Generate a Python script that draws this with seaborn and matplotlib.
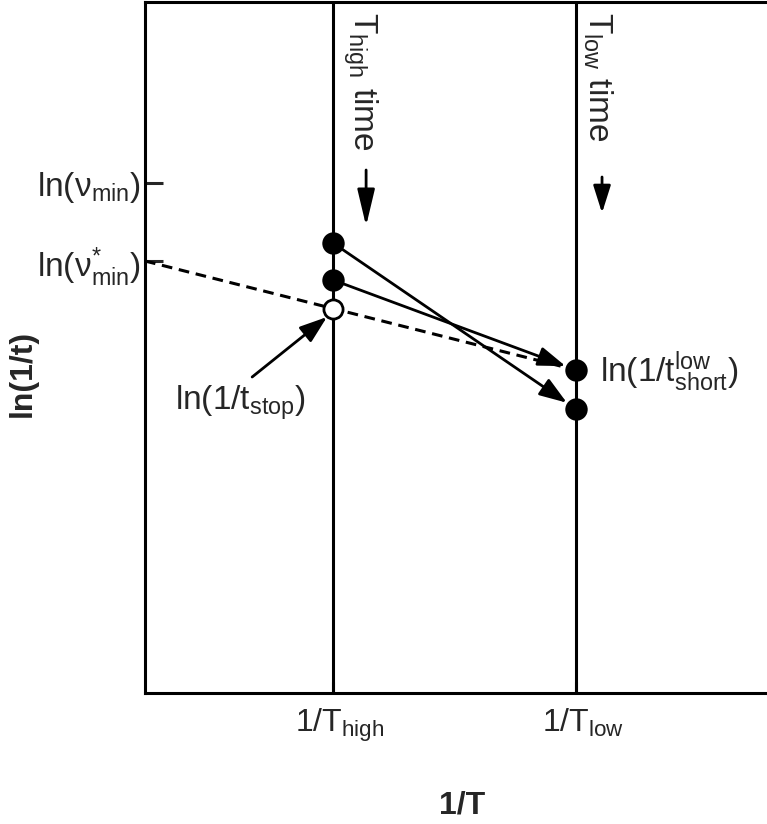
import matplotlib
matplotlib.use("Agg")
import matplotlib.pyplot as plt
import matplotlib.transforms as mtransforms
import seaborn as sns
import pandas as pd

# ---- data (schematic units) ----
x_ticks = [1.0, 2.0]
x_ticklabels = [r"$\mathregular{1/T_{high}}$", r"$\mathregular{1/T_{low}}$"]
y_ticks = [5.10, 4.32]
y_ticklabels = [r"$\mathregular{ln(ν_{min})}$", r"$\mathregular{ln(ν^{*}_{min})}$"]

high_x = [1.0, 1.0]
high_y = [4.50, 4.13]
low_x = [2.0, 2.0]
low_y = [2.84, 3.23]          # arrow targets: high[0]->low[0], high[1]->low[1]
stop_x = [1.0]
stop_y = [3.84]
dash_x = [0.226, 2.0]
dash_y = [4.32, 3.23]

sns.set_style("white")
plt.rcParams["font.family"] = ["Liberation Sans", "DejaVu Sans"]
plt.rcParams["mathtext.fontset"] = "custom"
plt.rcParams["mathtext.rm"] = "Liberation Sans"
plt.rcParams["mathtext.it"] = "Liberation Sans:italic"
plt.rcParams["mathtext.bf"] = "Liberation Sans:bold"

W, H = 767, 824
fig = plt.figure(figsize=(W / 100, H / 100), dpi=100)
ax = fig.add_axes([145 / W, (H - 693) / H, 1 - 145 / W, (693 - 2) / H])
ax.set_xlim(0.226, 2.786)
ax.set_ylim(0, 6.91)

lw = 2.2
for s in ["left", "bottom", "top"]:
    ax.spines[s].set_linewidth(lw)
    ax.spines[s].set_color("black")
ax.spines["right"].set_visible(False)

# vertical temperature lines
for xv in x_ticks:
    ax.axvline(xv, color="black", lw=lw, zorder=2)

# dashed line
sns.lineplot(x=dash_x, y=dash_y, ax=ax, color="black", lw=2.2,
             linestyle=(0, (3.5, 2.2)), zorder=3)

# arrows high -> low
for hx, hy, lx, ly in zip(high_x, high_y, low_x, low_y):
    ax.annotate("", xy=(lx, ly), xytext=(hx, hy),
                arrowprops=dict(arrowstyle="-|>,head_length=1.2,head_width=0.42",
                                color="black", lw=2.0, shrinkA=0, shrinkB=8,
                                mutation_scale=14),
                zorder=4)

# markers
pts = pd.DataFrame({"x": high_x + low_x, "y": high_y + low_y})
sns.scatterplot(data=pts, x="x", y="y", ax=ax, color="black", s=260,
                edgecolor="black", linewidth=0, zorder=6, legend=False)
sns.scatterplot(x=stop_x, y=stop_y, ax=ax, color="white", s=190,
                edgecolor="black", linewidth=2.0, zorder=6, legend=False)

# stop label + arrow
ax.annotate("", xy=(0.975, 3.76), xytext=(0.667, 3.16),
            arrowprops=dict(arrowstyle="-|>,head_length=1.2,head_width=0.42",
                            color="black", lw=2.0, shrinkA=0, shrinkB=0,
                            mutation_scale=14), zorder=5)
ax.text(0.350, 2.83, r"$\mathregular{ln(1/t_{stop})}$", fontsize=24,
        ha="left", va="baseline")
ax.text(2.099, 3.11, r"$\mathregular{ln(1/t^{low}_{short})}$", fontsize=24,
        ha="left", va="baseline")

# rotated "time" labels
ax.text(1.111, 6.81, r"$\mathregular{T_{high}}$ time", fontsize=24,
        rotation=-90, ha="center", va="top")
ax.text(2.091, 6.81, r"$\mathregular{T_{low}}$ time", fontsize=24,
        rotation=-90, ha="center", va="top")
ax.annotate("", xy=(1.136, 4.67), xytext=(1.136, 5.23),
            arrowprops=dict(arrowstyle="-|>,head_length=1.6,head_width=0.38",
                            color="black", lw=2.0, shrinkA=0, shrinkB=0,
                            mutation_scale=14))
ax.annotate("", xy=(2.107, 4.80), xytext=(2.107, 5.16),
            arrowprops=dict(arrowstyle="-|>,head_length=1.2,head_width=0.38",
                            color="black", lw=2.0, shrinkA=0, shrinkB=0,
                            mutation_scale=14))

# ticks
ax.set_xticks(x_ticks)
ax.set_xticklabels(x_ticklabels, fontsize=23)
ax.set_yticks(y_ticks)
ax.set_yticklabels(y_ticklabels, fontsize=24)
ax.tick_params(axis="y", direction="in", length=13, width=lw, pad=3, left=True)
ax.tick_params(axis="x", direction="in", length=8, width=lw, pad=10, bottom=True)
off = mtransforms.ScaledTranslation(7 / 100, 0, fig.dpi_scale_trans)
for lab in ax.get_xticklabels():
    lab.set_transform(lab.get_transform() + off)

ax.set_xlabel("")
ax.set_ylabel("")
fig.text(23 / W, 1 - 373 / H, "ln(1/t)", fontsize=23, fontweight="bold",
         rotation=90, ha="center", va="center")
fig.text(462 / W, 1 - 806 / H, "1/T", fontsize=23, fontweight="bold",
         ha="center", va="center")

fig.savefig("out.png", dpi=100)
